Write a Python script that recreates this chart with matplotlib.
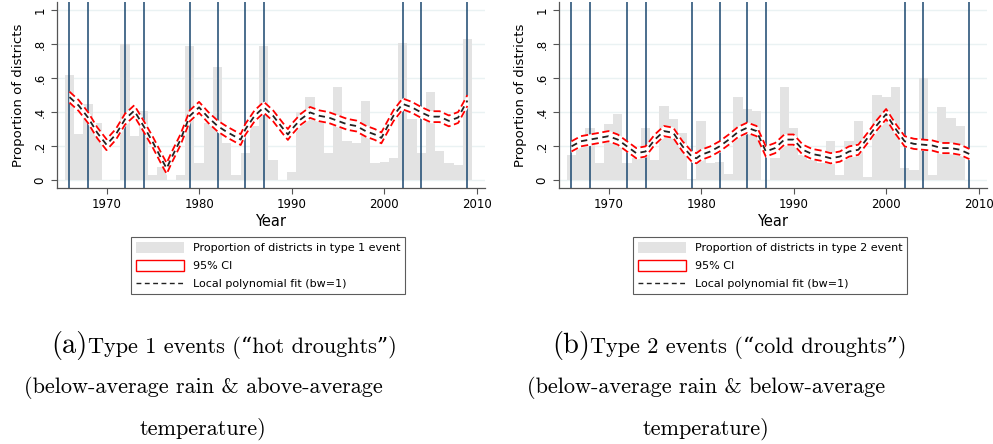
import matplotlib
matplotlib.use("Agg")
import matplotlib.pyplot as plt
from matplotlib.patches import Patch
from matplotlib.lines import Line2D

# Доли районов по годам (столбцы)
years = list(range(1966, 2010))
type1_share = [0.62, 0.27, 0.45, 0.34, 0.0, 0.0, 0.80, 0.26, 0.41, 0.03,
               0.08, 0.0, 0.03, 0.79, 0.10, 0.34, 0.67, 0.22, 0.03, 0.16,
               0.32, 0.79, 0.12, 0.0, 0.05, 0.40, 0.49, 0.38, 0.16, 0.55,
               0.23, 0.22, 0.47, 0.10, 0.11, 0.13, 0.81, 0.36, 0.16, 0.52,
               0.17, 0.10, 0.09, 0.83]
type2_share = [0.15, 0.25, 0.31, 0.10, 0.33, 0.39, 0.10, 0.13, 0.31, 0.12,
               0.44, 0.36, 0.28, 0.01, 0.35, 0.10, 0.11, 0.04, 0.49, 0.42,
               0.41, 0.0, 0.13, 0.55, 0.31, 0.15, 0.12, 0.10, 0.23, 0.03,
               0.23, 0.35, 0.02, 0.50, 0.49, 0.55, 0.07, 0.06, 0.60, 0.03,
               0.43, 0.37, 0.32, 0.0]

# Локальная полиномиальная подгонка
fit1_x = [1966, 1967, 1968, 1969, 1970, 1971, 1972, 1973, 1974, 1975, 1976,
          1976.5, 1977, 1978, 1979, 1980, 1981, 1982, 1983, 1984, 1984.5,
          1985, 1986, 1987, 1988, 1989, 1989.6, 1990, 1991, 1992, 1993, 1994,
          1995, 1996, 1997, 1998, 1999, 1999.7, 2000, 2001, 2002, 2003, 2004,
          2005, 2006, 2007, 2008, 2009]
fit1_y = [0.49, 0.44, 0.37, 0.28, 0.21, 0.27, 0.36, 0.41, 0.32, 0.225, 0.12,
          0.07, 0.13, 0.24, 0.38, 0.43, 0.37, 0.32, 0.285, 0.255, 0.24,
          0.30, 0.38, 0.43, 0.38, 0.31, 0.27, 0.30, 0.36, 0.40, 0.38, 0.37,
          0.35, 0.33, 0.32, 0.29, 0.27, 0.25, 0.28, 0.38, 0.45, 0.43, 0.40,
          0.375, 0.375, 0.35, 0.37, 0.47]
fit2_x = [1966, 1967, 1968, 1969, 1970, 1971, 1972, 1973, 1974, 1975, 1976,
          1977, 1978, 1979, 1979.5, 1980, 1981, 1982, 1983, 1984, 1985, 1986,
          1987, 1988, 1989, 1990, 1991, 1992, 1993, 1994, 1995, 1996, 1997,
          1998, 1999, 2000, 2001, 2002, 2003, 2004, 2005, 2006, 2007, 2008,
          2009]
fit2_y = [0.20, 0.23, 0.24, 0.25, 0.26, 0.24, 0.20, 0.16, 0.17, 0.24, 0.29,
          0.28, 0.20, 0.14, 0.13, 0.15, 0.17, 0.20, 0.24, 0.285, 0.31, 0.29,
          0.17, 0.19, 0.24, 0.24, 0.18, 0.155, 0.145, 0.13, 0.14, 0.17, 0.18,
          0.25, 0.325, 0.39, 0.305, 0.23, 0.215, 0.21, 0.205, 0.19, 0.19,
          0.18, 0.155]
ci1_half = 0.032
ci2_half = 0.03

# Годы засух (вертикальные линии)
drought_years = [1966, 1968, 1972, 1974, 1979, 1982, 1985, 1987, 2002, 2004, 2009]

panels = [
    (type1_share, fit1_x, fit1_y, ci1_half, "Proportion of districts in type 1 event",
     "(a)", "Type 1 events (\u201chot droughts\u201d)",
     "(below-average rain & above-average", "temperature)"),
    (type2_share, fit2_x, fit2_y, ci2_half, "Proportion of districts in type 2 event",
     "(b)", "Type 2 events (\u201ccold droughts\u201d)",
     "(below-average rain & below-average", "temperature)"),
]

W, H = 993, 444
fig = plt.figure(figsize=(W / 100, H / 100), dpi=100)
fig.patch.set_facecolor("white")

axes_px = [(57, 485), (559, 987)]      # левый/правый край осей в пикселях
legend_px = [(131, 410), (633, 912)]
caption_x = [(88, 203), (590, 706)]
serif = ["cmr10", "DejaVu Serif"]

for (share, fx, fy, ci, lab, tag, title, line2, line3), (x0, x1), (l0, l1), (cx, cx2) in zip(
        panels, axes_px, legend_px, caption_x):
    ax = fig.add_axes([x0 / W, 1 - 188 / H, (x1 - x0) / W, 186 / H])

    ax.bar(years, share, width=1.0, color="#e3e3e3", zorder=1)
    for y in drought_years:
        ax.axvline(y, color="#1a476f", lw=1.1, zorder=2)
    lo = [v - ci for v in fy]
    hi = [v + ci for v in fy]
    ax.fill_between(fx, lo, hi, color="white", zorder=3)
    ax.plot(fx, lo, color="red", lw=1.3, ls=(0, (4, 2)), zorder=4)
    ax.plot(fx, hi, color="red", lw=1.3, ls=(0, (4, 2)), zorder=4)
    ax.plot(fx, fy, color="#222222", lw=1.3, ls=(0, (3.5, 2.5)), zorder=5)

    ax.set_xlim(1964.65, 2010.9)
    ax.set_ylim(-0.045, 1.05)
    ax.set_xticks([1970, 1980, 1990, 2000, 2010])
    ax.set_yticks([0, 0.2, 0.4, 0.6, 0.8, 1.0])
    ax.set_yticklabels(["0", ".2", ".4", ".6", ".8", "1"], rotation=90, va="center")
    ax.tick_params(labelsize=8.5, length=4, width=0.8, color="#555555")
    ax.grid(axis="y", color="#eaf2f3", lw=1.0, zorder=0)
    ax.set_axisbelow(True)
    for s in ["top", "right"]:
        ax.spines[s].set_visible(False)
    for s in ["left", "bottom"]:
        ax.spines[s].set_color("#555555")
        ax.spines[s].set_linewidth(0.9)
    ax.set_ylabel("Proportion of districts", fontsize=9.5, labelpad=6)
    ax.set_xlabel("Year", fontsize=10.5, labelpad=2)

    handles = [
        Patch(facecolor="#e3e3e3", edgecolor="none"),
        Patch(facecolor="white", edgecolor="red", lw=1.0),
        Line2D([], [], color="#222222", lw=1.0, ls=(0, (3.5, 2.5))),
    ]
    labels = [lab, "95% CI", "Local polynomial fit (bw=1)"]
    leg = fig.legend(handles, labels, loc="upper left",
                     bbox_to_anchor=(l0 / W, 1 - 237 / H), fontsize=8,
                     frameon=True, fancybox=False, edgecolor="#333333",
                     handlelength=4.3, handleheight=1.1, handletextpad=0.8,
                     labelspacing=0.62, borderpad=0.45, borderaxespad=0)
    leg.get_frame().set_linewidth(0.8)

    fig.text(cx / W, 1 - 345 / H, tag, ha="right", va="center", fontsize=20.5, family=serif)
    fig.text(cx / W, 1 - 347 / H, title, ha="left", va="center", fontsize=16, family=serif)
    fig.text(cx2 / W, 1 - 388 / H, line2, ha="center", va="center", fontsize=16, family=serif)
    fig.text(cx2 / W, 1 - 429 / H, line3, ha="center", va="center", fontsize=16, family=serif)

fig.savefig("out.png", dpi=100)
